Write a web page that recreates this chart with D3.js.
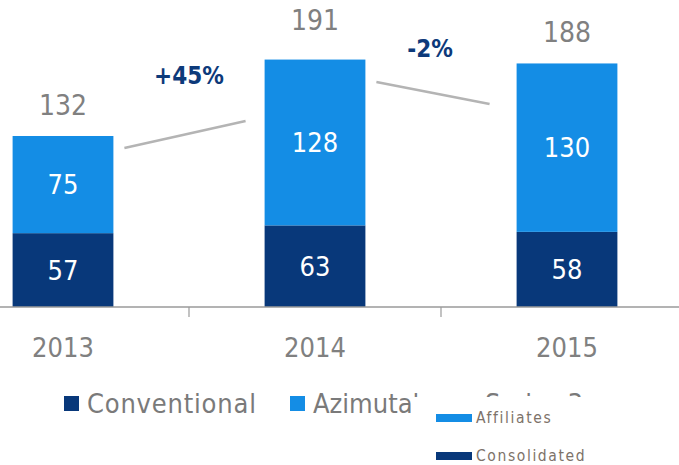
<!DOCTYPE html>
<html>
<head>
<meta charset="utf-8">
<script src="https://cdn.jsdelivr.net/npm/d3@7"></script>
<style>
  body { margin: 0; background: #fff; }
  svg { display: block; font-family: "DejaVu Sans Condensed", "Liberation Sans Narrow", sans-serif; }
</style>
</head>
<body>
<div id="chart"></div>
<script>
// Chart size
const width = 679;
const height = 465;

// Data
const years = ["2013", "2014", "2015"];
const consolidated = [57, 63, 58];
const affiliates = [75, 128, 130];
const totals = [132, 191, 188];
const growth = ["+45%", "-2%"];

const darkBlue = "#08387a";
const lightBlue = "#148de5";

const svg = d3.select("#chart")
  .append("svg")
  .attr("width", width)
  .attr("height", height);

// Scales
const xScale = d3.scaleBand()
  .domain(years)
  .range([-63, 693])
  .paddingInner(0.6)
  .paddingOuter(0.3);

const yScale = d3.scaleLinear()
  .domain([0, 132])
  .range([307, 136]);

// Bars - consolidated at the bottom, affiliates stacked on top
svg.selectAll(".cons")
  .data(years)
  .enter()
  .append("rect")
  .attr("class", "cons")
  .attr("x", d => xScale(d))
  .attr("y", (d, i) => yScale(consolidated[i]))
  .attr("width", xScale.bandwidth())
  .attr("height", (d, i) => yScale(0) - yScale(consolidated[i]))
  .attr("fill", darkBlue);

svg.selectAll(".aff")
  .data(years)
  .enter()
  .append("rect")
  .attr("class", "aff")
  .attr("x", d => xScale(d))
  .attr("y", (d, i) => yScale(consolidated[i] + affiliates[i]))
  .attr("width", xScale.bandwidth())
  .attr("height", (d, i) => yScale(consolidated[i]) - yScale(consolidated[i] + affiliates[i]))
  .attr("fill", lightBlue);

// Segment labels
const cx = d => xScale(d) + xScale.bandwidth() / 2;

svg.selectAll(".cons-lbl")
  .data(years)
  .enter()
  .append("text")
  .attr("x", cx)
  .attr("y", (d, i) => yScale(consolidated[i] / 2))
  .attr("dy", "0.36em")
  .attr("text-anchor", "middle")
  .attr("fill", "#fff")
  .attr("font-size", "27px")
  .text((d, i) => consolidated[i]);

svg.selectAll(".aff-lbl")
  .data(years)
  .enter()
  .append("text")
  .attr("x", cx)
  .attr("y", (d, i) => yScale(consolidated[i] + affiliates[i] / 2))
  .attr("dy", "0.36em")
  .attr("text-anchor", "middle")
  .attr("fill", "#fff")
  .attr("font-size", "27px")
  .text((d, i) => affiliates[i]);

// Totals above bars
svg.selectAll(".tot-lbl")
  .data(years)
  .enter()
  .append("text")
  .attr("x", cx)
  .attr("y", (d, i) => yScale(totals[i]) - 21 - (i == 1 ? 9 : 0))
  .attr("text-anchor", "middle")
  .attr("fill", "#808080")
  .attr("font-size", "28px")
  .text((d, i) => totals[i]);

// X axis
const axis = svg.append("g")
  .attr("transform", `translate(0, ${yScale(0)})`);
axis.append("line")
  .attr("x1", 0).attr("x2", width)
  .attr("stroke", "#9a9a9a").attr("stroke-width", 1.5);
// ticks between categories
axis.selectAll(".tick")
  .data(years.slice(1))
  .enter()
  .append("line")
  .attr("x1", d => xScale(d) - xScale.step() * xScale.paddingInner() / 2)
  .attr("x2", d => xScale(d) - xScale.step() * xScale.paddingInner() / 2)
  .attr("y1", 0).attr("y2", 10)
  .attr("stroke", "#9a9a9a").attr("stroke-width", 1.2);

svg.selectAll(".year")
  .data(years)
  .enter()
  .append("text")
  .attr("x", cx)
  .attr("y", 357)
  .attr("text-anchor", "middle")
  .attr("fill", "#808080")
  .attr("font-size", "27px")
  .text(d => d);

// Growth connectors between bars
const conn = [
  {from: 0, to: 1, y1: 148, y2: 121, ly: 84, dx: 4},
  {from: 1, to: 2, y1: 82, y2: 104, ly: 57, dx: -3}
];
conn.forEach((c, i) => {
  const x1 = xScale(years[c.from]) + xScale.bandwidth() + 11;
  const x2 = xScale(years[c.to]) - (i == 0 ? 19 : 27);
  svg.append("line")
    .attr("x1", x1).attr("y1", c.y1)
    .attr("x2", x2).attr("y2", c.y2)
    .attr("stroke", "#b4b4b4").attr("stroke-width", 2.5);
  svg.append("text")
    .attr("x", (x1 + x2) / 2 + c.dx)
    .attr("y", c.ly)
    .attr("text-anchor", "middle")
    .attr("fill", "#0d3a7a")
    .attr("font-weight", "bold")
    .attr("font-size", "24px")
    .text(growth[i]);
});

// Legend row (partly covered by the second legend box)
const legend1 = [
  {name: "Conventional", color: darkBlue, x: 64, ls: 0.8},
  {name: "Azimutal", color: lightBlue, x: 290, ls: 0},
  {name: "Series 3", color: "#fff", x: 462, ls: 0}
];
legend1.forEach(l => {
  svg.append("rect")
    .attr("x", l.x).attr("y", 396)
    .attr("width", 15).attr("height", 15)
    .attr("fill", l.color);
  svg.append("text")
    .attr("x", l.x + 23).attr("y", 413)
    .attr("fill", "#7a7a7a")
    .attr("font-size", "27px")
    .attr("letter-spacing", l.ls + "px")
    .text(l.name);
});

// white box of the second legend
svg.append("rect")
  .attr("x", 411).attr("y", 397)
  .attr("width", 268).attr("height", 68)
  .attr("fill", "#fff");

const legend2 = [
  {name: "Affiliates", color: lightBlue, y: 414},
  {name: "Consolidated", color: darkBlue, y: 452}
];
legend2.forEach(l => {
  svg.append("rect")
    .attr("x", 436).attr("y", l.y)
    .attr("width", 36).attr("height", 8)
    .attr("fill", l.color);
  svg.append("text")
    .attr("x", 476).attr("y", l.y + 9)
    .attr("fill", "#7d7269")
    .attr("font-size", "15.5px")
    .attr("letter-spacing", "1.6px")
    .text(l.name);
});
</script>
</body>
</html>
